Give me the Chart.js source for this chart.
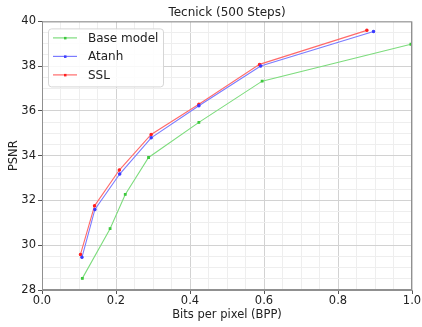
<!DOCTYPE html>
<html lang="en">
<head>
  <meta charset="UTF-8">
  <title>Tecnick (500 Steps)</title>
  <script src="https://cdn.jsdelivr.net/npm/chart.js"></script>
  <style>
    * {
      margin: 0;
      padding: 0;
      box-sizing: border-box;
    }

    body {
      background: white;
    }

    .chart-container {
      width: 422px;
      height: 327px;
    }
  </style>
</head>
<body>
  <div class="chart-container">
    <canvas id="rdChart"></canvas>
  </div>

  <script>
    const seriesNames = ['Base model', 'Atanh', 'SSL'];

    const bppBase = [0.109, 0.184, 0.225, 0.288, 0.424, 0.595, 0.997];
    const psnrBase = [28.52, 30.74, 32.27, 33.92, 35.49, 37.33, 38.98];

    const bppAtanh = [0.108, 0.143, 0.210, 0.295, 0.424, 0.591, 0.896];
    const psnrAtanh = [29.46, 31.60, 33.18, 34.80, 36.23, 38.01, 39.55];

    const bppSSL = [0.104, 0.142, 0.209, 0.295, 0.424, 0.588, 0.878];
    const psnrSSL = [29.59, 31.76, 33.36, 34.95, 36.30, 38.08, 39.60];

    const xTickLabels = ['0.0', '0.2', '0.4', '0.6', '0.8', '1.0'];
    const yTickLabels = ['28', '30', '32', '34', '36', '38', '40'];

    const FONT = 'DejaVu Sans';

    function toPoints(xs, ys) {
      return xs.map((x, i) => ({ x: x, y: ys[i] }));
    }

    function isMultiple(v, step) {
      return Math.abs(v / step - Math.round(v / step)) < 1e-6;
    }

    // legend box drawn inside the plot, top-left like matplotlib
    const insideLegend = {
      id: 'insideLegend',
      afterDraw(chart) {
        const ctx = chart.ctx;
        const area = chart.chartArea;
        const x = area.left + 6, y = area.top + 7;
        const w = 115, h = 58;
        ctx.save();
        ctx.fillStyle = 'rgba(255,255,255,0.85)';
        ctx.strokeStyle = '#d6d6d6';
        ctx.lineWidth = 1;
        ctx.beginPath();
        ctx.roundRect(x + 0.5, y + 0.5, w, h, 3);
        ctx.fill();
        ctx.stroke();

        ctx.font = '12px "' + FONT + '"';
        ctx.textBaseline = 'middle';
        chart.data.datasets.forEach((ds, i) => {
          const cy = y + 9.5 + i * 18.5;
          ctx.strokeStyle = ds.borderColor;
          ctx.lineWidth = 1.2;
          ctx.beginPath();
          ctx.moveTo(x + 5, cy);
          ctx.lineTo(x + 29, cy);
          ctx.stroke();
          ctx.fillStyle = ds.pointBackgroundColor;
          ctx.fillRect(x + 16, cy - 1, 2.5, 2.5);
          ctx.fillStyle = '#222';
          ctx.fillText(ds.label, x + 40, cy + 0.5);
        });
        ctx.restore();
      }
    };

    // right and top frame lines
    const frame = {
      id: 'frame',
      afterDraw(c) {
        const a = c.chartArea;
        c.ctx.save();
        c.ctx.strokeStyle = '#909090';
        c.ctx.lineWidth = 1;
        c.ctx.strokeRect(a.left + 0.5, a.top + 0.5, a.right - a.left - 1, a.bottom - a.top - 1);
        c.ctx.restore();
      }
    };

    const ctx = document.getElementById('rdChart').getContext('2d');
    const chart = new Chart(ctx, {
      type: 'line',
      data: {
        datasets: [
          {
            label: seriesNames[0],
            data: toPoints(bppBase, psnrBase),
            borderColor: '#7ddc7d',
            pointBackgroundColor: '#3cc83c',
            pointBorderColor: '#3cc83c',
            pointStyle: 'rect',
            pointRadius: 1.2,
            borderWidth: 1.1
          },
          {
            label: seriesNames[1],
            data: toPoints(bppAtanh, psnrAtanh),
            borderColor: '#7b7bff',
            pointBackgroundColor: '#3a3aff',
            pointBorderColor: '#3a3aff',
            pointRadius: 1.2,
            borderWidth: 1.1
          },
          {
            label: seriesNames[2],
            data: toPoints(bppSSL, psnrSSL),
            borderColor: '#ff6a6a',
            pointBackgroundColor: '#ff2020',
            pointBorderColor: '#ff2020',
            pointRadius: 1.2,
            borderWidth: 1.1
          }
        ]
      },
      options: {
        responsive: true,
        maintainAspectRatio: false,
        animation: false,
        layout: {
          padding: { left: 0, right: 10, top: 0, bottom: 0 }
        },
        plugins: {
          legend: { display: false },
          tooltip: { enabled: false },
          title: {
            display: true,
            text: 'Tecnick (500 Steps)',
            fullSize: false,
            color: '#222',
            font: { family: FONT, size: 12, weight: 'normal' },
            padding: { top: 6, bottom: 1 }
          }
        },
        scales: {
          x: {
            type: 'linear',
            min: 0,
            max: 1,
            border: { color: '#909090' },
            afterFit: (scale) => { scale.height = 37; },
            grid: {
              color: (c) => isMultiple(c.tick.value, 0.2) ? '#d2d2d2' : '#eeeeee',
              tickColor: (c) => isMultiple(c.tick.value, 0.2) ? '#555' : 'rgba(0,0,0,0)',
              tickLength: 4
            },
            ticks: {
              stepSize: 0.05,
              autoSkip: false,
              maxRotation: 0,
              padding: 0,
              color: '#222',
              font: { family: FONT, size: 11.5 },
              callback: (v) => isMultiple(v, 0.2) ? xTickLabels[Math.round(v / 0.2)] : ''
            },
            title: {
              display: true,
              text: 'Bits per pixel (BPP)',
              color: '#222',
              font: { family: FONT, size: 11.5 },
              padding: { top: 0, bottom: 5 }
            }
          },
          y: {
            type: 'linear',
            min: 28,
            max: 40,
            border: { color: '#909090' },
            afterFit: (scale) => { scale.width = 42; },
            grid: {
              color: (c) => isMultiple(c.tick.value, 2) ? '#d2d2d2' : '#eeeeee',
              tickColor: (c) => isMultiple(c.tick.value, 2) ? '#555' : 'rgba(0,0,0,0)',
              tickLength: 4
            },
            ticks: {
              stepSize: 0.5,
              autoSkip: false,
              padding: 2,
              color: '#222',
              font: { family: FONT, size: 11.5 },
              callback: (v) => isMultiple(v, 2) ? yTickLabels[Math.round((v - 28) / 2)] : ''
            },
            title: {
              display: true,
              text: 'PSNR',
              color: '#222',
              font: { family: FONT, size: 11.5 },
              padding: { top: 7, bottom: 0 }
            }
          }
        }
      },
      plugins: [insideLegend, frame]
    });
  </script>
</body>
</html>
